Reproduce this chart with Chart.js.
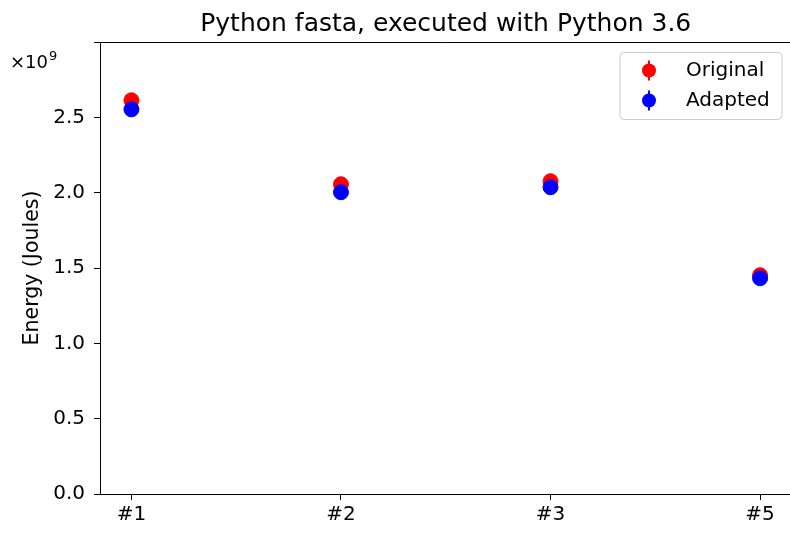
<!DOCTYPE html>
<html>
<head>
<meta charset="utf-8">
<script src="https://cdn.jsdelivr.net/npm/chart.js@4/dist/chart.umd.min.js"></script>
<style>
  html, body { margin: 0; padding: 0; background: #fff; overflow: hidden; }
  #wrap { width: 800px; height: 533px; }
</style>
</head>
<body>
<div id="wrap"><canvas id="c" width="800" height="533"></canvas></div>
<script>
// values in units of 1e9 joules
const categories = ['#1', '#2', '#3', '#5']
const original = [2.613, 2.056, 2.076, 1.452]
const adapted = [2.553, 2.003, 2.036, 1.432]
const yTicks = [0, 0.5, 1.0, 1.5, 2.0, 2.5, 3.0]
const titleText = 'Python fasta, executed with Python 3.6'

const FONT = 'DejaVu Sans'

function points(values) {
  return values.map((v, i) => ({ x: i, y: v }))
}

// title centred over the axes, offset text "×10^9" and the top spine
const extras = {
  id: 'extras',
  afterDraw(chart) {
    let { ctx, chartArea } = chart
    ctx.save()
    ctx.strokeStyle = '#000'
    ctx.lineWidth = 1
    ctx.beginPath()
    ctx.moveTo(chartArea.left, chartArea.top + 0.5)
    ctx.lineTo(chartArea.right, chartArea.top + 0.5)
    ctx.stroke()

    ctx.fillStyle = '#000'
    ctx.textBaseline = 'alphabetic'
    ctx.textAlign = 'center'
    ctx.font = '25px "' + FONT + '"'
    ctx.fillText(titleText, (chartArea.left + chartArea.right) / 2, 31)

    ctx.textAlign = 'left'
    ctx.font = '18px "' + FONT + '"'
    ctx.fillText('\u00d710', 10, 68)
    let w = ctx.measureText('\u00d710').width
    ctx.font = '13px "' + FONT + '"'
    ctx.fillText('9', 10 + w + 1, 60)
    ctx.restore()
  }
}

// legend box drawn inside the plot, matplotlib style
const insideLegend = {
  id: 'insideLegend',
  afterDraw(chart) {
    let { ctx, chartArea } = chart
    let sets = chart.data.datasets.slice().sort((a, b) => a.legendIndex - b.legendIndex)
    let boxW = 162, boxH = 67
    let x0 = chartArea.right - 172 + 0.5
    let y0 = chartArea.top + 10 + 0.5
    ctx.save()
    ctx.fillStyle = 'rgba(255,255,255,0.8)'
    ctx.strokeStyle = '#cccccc'
    ctx.lineWidth = 1
    ctx.beginPath()
    ctx.roundRect(x0, y0, boxW, boxH, 4)
    ctx.fill()
    ctx.stroke()

    sets.forEach((ds, i) => {
      let cy = y0 + 18 + i * 30
      let cx = x0 + 29
      ctx.strokeStyle = ds.backgroundColor
      ctx.lineWidth = 2
      ctx.beginPath()
      ctx.moveTo(cx, cy - 10)
      ctx.lineTo(cx, cy + 10)
      ctx.stroke()
      ctx.fillStyle = ds.backgroundColor
      ctx.beginPath()
      ctx.arc(cx, cy, 7, 0, Math.PI * 2)
      ctx.fill()
      ctx.fillStyle = '#000'
      ctx.font = '20px "' + FONT + '"'
      ctx.textBaseline = 'middle'
      ctx.textAlign = 'left'
      ctx.fillText(ds.label, x0 + 66, cy)
    })
    ctx.restore()
  }
}

new Chart(document.getElementById('c'), {
  type: 'scatter',
  data: {
    datasets: [
      {
        label: 'Adapted',
        legendIndex: 1,
        order: 0,
        data: points(adapted),
        backgroundColor: '#0000ff',
        borderColor: '#0000ff',
        pointRadius: 7.5,
        pointHoverRadius: 7.5
      },
      {
        label: 'Original',
        legendIndex: 0,
        order: 1,
        data: points(original),
        backgroundColor: '#ff0000',
        borderColor: '#ff0000',
        pointRadius: 7.5,
        pointHoverRadius: 7.5
      }
    ]
  },
  options: {
    responsive: false,
    animation: false,
    layout: { padding: { left: 0, right: 0, top: 42, bottom: 0 } },
    plugins: {
      legend: { display: false },
      tooltip: { enabled: false },
      title: { display: false }
    },
    scales: {
      x: {
        type: 'linear',
        min: -0.15,
        max: 3.15,
        afterBuildTicks(scale) {
          scale.ticks = categories.map((c, i) => ({ value: i }))
        },
        afterFit(scale) {
          scale.height = 39
          scale.paddingLeft = 0
          scale.paddingRight = 0
        },
        grid: { drawOnChartArea: false, color: '#000', tickLength: 6, tickWidth: 1 },
        border: { color: '#000', width: 1 },
        ticks: {
          color: '#000',
          font: { family: FONT, size: 20 },
          padding: 3,
          maxRotation: 0,
          callback: (v) => categories[v]
        }
      },
      y: {
        min: 0,
        max: 3.0,
        afterBuildTicks(scale) {
          scale.ticks = yTicks.map(v => ({ value: v }))
        },
        afterFit(scale) {
          scale.width = 100
          scale.paddingTop = 0
          scale.paddingBottom = 0
        },
        grid: { drawOnChartArea: false, color: '#000', tickLength: 6, tickWidth: 1 },
        border: { color: '#000', width: 1 },
        title: {
          display: true,
          text: 'Energy (Joules)',
          color: '#000',
          font: { family: FONT, size: 20.5 },
          padding: { top: 20, bottom: 0 }
        },
        ticks: {
          color: '#000',
          font: { family: FONT, size: 20 },
          padding: 9,
          callback: (v) => v === 3 ? '' : v.toFixed(1)
        }
      }
    }
  },
  plugins: [extras, insideLegend]
})
</script>
</body>
</html>
